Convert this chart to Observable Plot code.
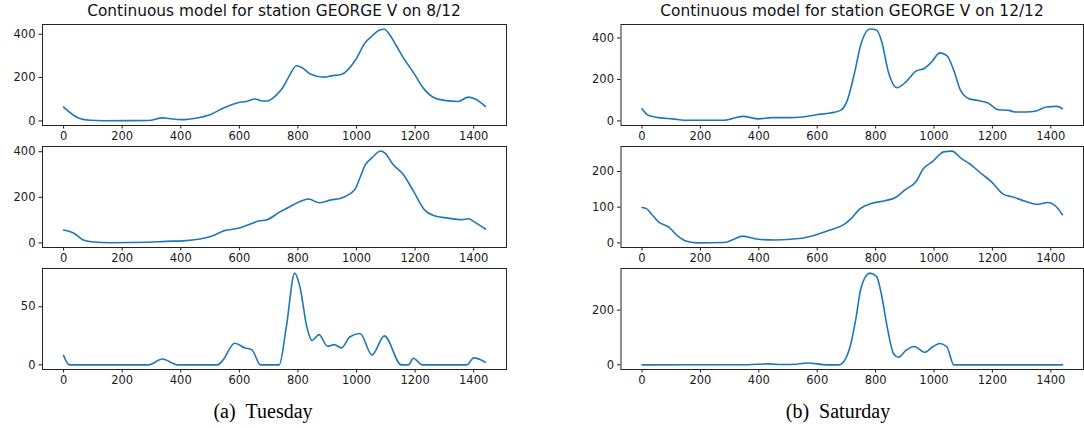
<!DOCTYPE html>
<html><head><meta charset="utf-8">
<script src="https://cdn.jsdelivr.net/npm/d3@7"></script>
<script src="https://cdn.jsdelivr.net/npm/@observablehq/plot@0.6"></script>
<style>
body{margin:0;background:#fff;}
#wrap{position:relative;width:1084px;height:428px;overflow:hidden;background:#fff;}
.panel{position:absolute;}
.panel text{font-size:11.5px;}
.title{position:absolute;font:15.4px "DejaVu Sans";color:#111;transform:translateX(-50%);white-space:nowrap;line-height:16px;}
.cap{position:absolute;font:20px "Liberation Serif";color:#000;transform:translateX(-50%);white-space:nowrap;line-height:20px;}
</style></head><body><div id="wrap"></div><script>
// ---- data: minutes of day / modelled value ----
const xTicks = [0, 200, 400, 600, 800, 1000, 1200, 1400];
const titles = ["Continuous model for station GEORGE V on 8/12", "Continuous model for station GEORGE V on 12/12"];
const captions = ["(a)\u2002Tuesday", "(b)\u2002Saturday"];

const tue1Min = [0,55,90,137,290,337,360,402,455,500,548,595,625,654,678,695,725,748,771,795,813,842,889,913,948,995,1030,1053,1077,1095,1112,1136,1159,1194,1230,1265,1300,1347,1382,1405,1440];
const tue1Val = [64,11,3,1,2,14,11,6,14,29,61,84,90,101,92,92,118,153,209,255,247,217,202,208,214,278,362,392,418,423,400,347,293,224,148,107,95,90,110,101,67];

const tue2Min = [0,32,67,102,161,290,349,408,466,502,549,596,631,666,695,737,772,807,837,872,913,943,995,1012,1030,1053,1083,1100,1124,1159,1194,1230,1265,1312,1359,1382,1405,1440];
const tue2Val = [57,45,13,4,1,3,7,9,17,28,54,64,80,96,102,135,159,182,193,176,189,195,236,287,342,374,403,391,345,301,228,148,119,109,102,106,90,61];

const tue3Min = [0,20,290,337,390,525,543,584,619,643,672,736,760,789,807,831,848,872,901,924,948,977,1012,1053,1095,1153,1177,1194,1224,1377,1400,1440];
const tue3Val = [8,0,0,5,0,0,3.7,18.6,14.6,12.9,0,0,32,79,67,32,21,26,16,17.4,14.6,24,27,8.6,25,0,0,5.7,0,0,6,2.3];

const sat1Min = [0,21,56,103,162,280,345,400,444,503,550,597,644,680,703,727,750,780,803,820,844,873,903,938,968,991,1020,1044,1068,1091,1120,1150,1185,1220,1256,1279,1315,1350,1385,1420,1440];
const sat1Val = [59,27,16,10,3,3,22,10,16,16,19,30,38,51,99,227,371,443,438,387,235,160,187,240,254,283,328,315,243,147,107,99,86,54,51,43,43,48,67,70,59];

const sat2Min = [0,15,33,56,92,121,150,186,280,309,345,397,456,538,597,644,691,715,744,785,832,868,903,938,962,997,1033,1062,1091,1126,1162,1197,1238,1268,1315,1350,1391,1415,1440];
const sat2Val = [99,96,80,59,44,20,5,0,1,8,19,10,8,12,23,36,51,67,94,110,118,127,150,171,206,229,255,257,238,219,194,171,136,129,116,108,113,104,79];

const sat3Min = [0,362,433,480,527,568,633,674,697,715,733,750,780,803,820,838,862,879,903,932,968,997,1020,1044,1068,1440];
const sat3Val = [0,0.5,3.6,1.2,2.4,7,0,0,22,76,172,281,335,323,257,148,40,28,52,67,46,67,78,66,0,0];

const panels = [
  {col:0,row:0,xs:tue1Min,ys:tue1Val,yDomain:[-21,445],yTicks:[0,200,400]},
  {col:0,row:1,xs:tue2Min,ys:tue2Val,yDomain:[-20,423],yTicks:[0,200,400]},
  {col:0,row:2,xs:tue3Min,ys:tue3Val,yDomain:[-4,83],yTicks:[0,50]},
  {col:1,row:0,xs:sat1Min,ys:sat1Val,yDomain:[-22,465],yTicks:[0,200,400]},
  {col:1,row:1,xs:sat2Min,ys:sat2Val,yDomain:[-13,270],yTicks:[0,100,200]},
  {col:1,row:2,xs:sat3Min,ys:sat3Val,yDomain:[-17,352],yTicks:[0,200]},
];

// ---- layout ----
const colGeo = [
  {left:0,width:546,ml:42,mr:40,center:274,cap:263},
  {left:540,width:544,ml:80.5,mr:1,center:852,cap:838}
];
const rowTop = [24,145.5,267.5];
const frameH = 101, pad = 20;

const wrap = document.getElementById("wrap");
for (const p of panels) {
  const g = colGeo[p.col];
  const data = p.xs.map((x,i)=>({x, y:p.ys[i]}));
  const svg = Plot.plot({
    width: g.width, height: frameH + 2*pad,
    marginLeft: g.ml, marginRight: g.mr, marginTop: pad, marginBottom: pad,
    style: {fontFamily:"DejaVu Sans", fontSize:"11.5px", color:"#1a1a1a", overflow:"visible", background:"transparent"},
    x: {domain:[-72,1512]},
    y: {domain:p.yDomain},
    marks: [
      Plot.line(data, {x:"x", y:"y", stroke:"#1f77b4", strokeWidth:1.6, curve:"monotone-x"}),
      Plot.frame({stroke:"#222", strokeWidth:1}),
      Plot.axisX({ticks:xTicks, tickSize:3.5, tickPadding:3, label:null, tickFormat:d=>String(d)}),
      Plot.axisY({ticks:p.yTicks, tickSize:3.5, tickPadding:3.5, label:null, tickFormat:d=>String(d)})
    ]
  });
  svg.classList.add("panel");
  svg.style.left = g.left + "px";
  svg.style.top = (rowTop[p.row] - pad) + "px";
  svg.style.position = "absolute";
  wrap.appendChild(svg);
}
colGeo.forEach((g,i)=>{
  const t = document.createElement("div");
  t.className = "title"; t.textContent = titles[i];
  t.style.left = g.center + "px"; t.style.top = "3px";
  wrap.appendChild(t);
  const c = document.createElement("div");
  c.className = "cap"; c.textContent = captions[i];
  c.style.left = g.cap + "px"; c.style.top = "401px";
  wrap.appendChild(c);
});
</script></body></html>
